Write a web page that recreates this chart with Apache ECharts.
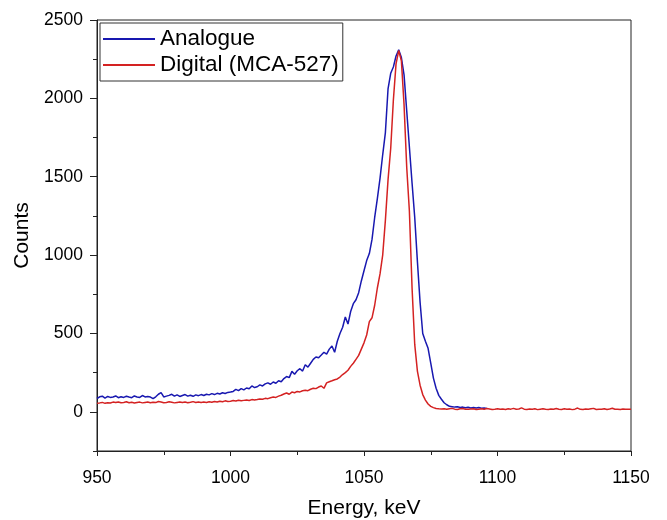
<!DOCTYPE html>
<html><head><meta charset="utf-8">
<script src="https://cdn.jsdelivr.net/npm/echarts@6/dist/echarts.min.js"></script>
<style>html,body{margin:0;padding:0;background:#fff}#c{width:667px;height:520px}</style>
</head><body><div id="c"></div>
<script>
const energy = [
950,951,952,953,954,955,956,957,958,959,
960,961,962,963,964,965,966,967,968,969,
970,971,972,973,974,975,976,977,978,979,
980,981,982,983,984,985,986,987,988,989,
990,991,992,993,994,995,996,997,998,999,
1000,1001,1002,1003,1004,1005,1006,1007,1008,1009,
1010,1011,1012,1013,1014,1015,1016,1017,1018,1019,
1020,1021,1022,1023,1024,1025,1026,1027,1028,1029,
1030,1031,1032,1033,1034,1035,1036,1037,1038,1039,
1040,1041,1042,1043,1044,1045,1046,1047,1048,1049,
1050,1051,1052,1053,1054,1055,1056,1057,1058,1059,
1060,1061,1062,1063,1064,1065,1066,1067,1068,1069,
1070,1071,1072,1073,1074,1075,1076,1077,1078,1079,
1080,1081,1082,1083,1084,1085,1086,1087,1088,1089,
1090,1091,1092,1093,1094,1095,1096,1097,1098,1099,
1100,1101,1102,1103,1104,1105,1106,1107,1108,1109,
1110,1111,1112,1113,1114,1115,1116,1117,1118,1119,
1120,1121,1122,1123,1124,1125,1126,1127,1128,1129,
1130,1131,1132,1133,1134,1135,1136,1137,1138,1139,
1140,1141,1142,1143,1144,1145,1146,1147,1148,1149,
1150];

const analogueCounts = [
85,96,100,88,98,92,95,101,90,96,
92,99,94,90,101,95,92,104,95,98,
94,84,96,112,122,95,100,105,112,100,
108,98,104,110,100,106,99,108,103,110,
104,112,108,116,110,118,114,122,117,124,
126,130,143,135,148,140,152,147,165,155,
160,172,165,178,185,176,190,182,198,192,
212,225,218,258,240,262,275,260,300,285,
310,335,350,345,362,380,368,400,420,380,
450,500,540,605,560,640,690,715,760,835,
900,965,1010,1100,1240,1360,1490,1640,1780,2060,
2160,2200,2270,2310,2260,2150,1920,1690,1460,1240,
960,700,500,450,405,310,215,150,105,80,
58,45,35,33,30,32,28,30,26,29,
25,28,24,27,23,25,22];

const digitalCounts = [
55,57,60,54,58,56,62,59,63,58,
60,64,58,61,56,59,62,57,60,63,
58,61,59,66,62,58,60,64,61,57,
60,63,59,62,58,61,65,60,63,59,
62,60,64,61,66,63,68,64,70,66,
68,72,69,74,70,73,76,72,78,75,
78,82,80,86,84,90,94,92,100,106,
114,120,112,126,122,130,127,134,138,135,
144,150,148,158,165,150,185,192,198,205,
210,222,238,250,265,290,310,335,360,400,
440,490,575,600,680,790,880,1000,1220,1480,
1680,1990,2220,2305,2240,1960,1560,1280,790,430,
260,170,110,75,50,35,27,21,19,18,
20,16,19,22,17,15,19,21,17,16,
18,20,15,17,19,16,21,18,15,17,
20,16,18,15,19,17,22,16,18,25,
17,15,18,16,19,14,17,20,16,15,
18,16,21,17,15,19,16,18,14,17,
24,16,15,18,16,19,22,15,17,16,
20,15,18,23,16,17,15,18,16,17,
16];

const seriesNames = ['Analogue', 'Digital (MCA-527)'];
const xTicks = [950, 1000, 1050, 1100, 1150];
const yTicks = [0, 500, 1000, 1500, 2000, 2500];
const yMinorTicks = [-250, 250, 750, 1250, 1750, 2250];

const FONT = 'Liberation Sans, Arial, sans-serif';
const AX = '#222';
const plain = v => String(v);

const analogueData = analogueCounts.map((v, i) => [energy[i], v]);
const digitalData = digitalCounts.map((v, i) => [energy[i], v]);

const chart = echarts.init(document.getElementById('c'), null, {renderer: 'canvas'});
chart.setOption({
  animation: false,
  backgroundColor: '#fff',
  textStyle: {fontFamily: FONT, color: '#000'},
  grid: {left: 97, right: 36, top: 20, bottom: 69, show: true, borderColor: AX, borderWidth: 1,
         backgroundColor: 'transparent', containLabel: false, outerBoundsMode: 'none'},
  legend: {
    orient: 'vertical', left: 100, top: 23,
    data: seriesNames,
    icon: 'rect', itemWidth: 52, itemHeight: 2, itemGap: 2,
    padding: [4, 4, 4, 3],
    borderColor: '#333', borderWidth: 1, backgroundColor: '#fff',
    textStyle: {fontSize: 22.5, fontFamily: FONT, color: '#000', lineHeight: 24}
  },
  xAxis: {
    type: 'value', min: xTicks[0], max: xTicks[xTicks.length - 1], interval: 50,
    axisLine: {onZero: false, lineStyle: {color: AX, width: 1}},
    axisTick: {show: true, length: 5, lineStyle: {color: AX}},
    minorTick: {show: true, splitNumber: 2, length: 4, lineStyle: {color: AX}},
    splitLine: {show: false},
    axisLabel: {fontSize: 17.5, color: '#000', margin: 18, fontFamily: FONT, formatter: plain},
    name: 'Energy, keV', nameLocation: 'middle', nameGap: 47,
    nameTextStyle: {fontSize: 21, color: '#000', fontFamily: FONT}
  },
  yAxis: [{
    type: 'value', min: -250, max: 2500,
    axisLine: {show: true, onZero: false, lineStyle: {color: AX, width: 1}},
    axisTick: {show: true, length: 7, customValues: yTicks, lineStyle: {color: AX}},
    axisLabel: {fontSize: 17.5, color: '#000', margin: 14, customValues: yTicks, fontFamily: FONT, formatter: plain},
    splitLine: {show: false},
    name: 'Counts', nameLocation: 'middle', nameGap: 52,
    nameTextStyle: {fontSize: 21, color: '#000', fontFamily: FONT}
  }, {
    type: 'value', min: -250, max: 2500, position: 'left',
    axisLine: {show: false},
    axisTick: {show: true, length: 4, customValues: yMinorTicks, lineStyle: {color: AX}},
    axisLabel: {show: false},
    splitLine: {show: false}
  }],
  series: [{
    name: seriesNames[0], type: 'line', data: analogueData, showSymbol: false,
    color: '#1818b0', lineStyle: {width: 1.5, color: '#1818b0'}
  }, {
    name: seriesNames[1], type: 'line', data: digitalData, showSymbol: false,
    color: '#d42222', lineStyle: {width: 1.5, color: '#d42222'}
  }]
});
</script>
</body></html>
